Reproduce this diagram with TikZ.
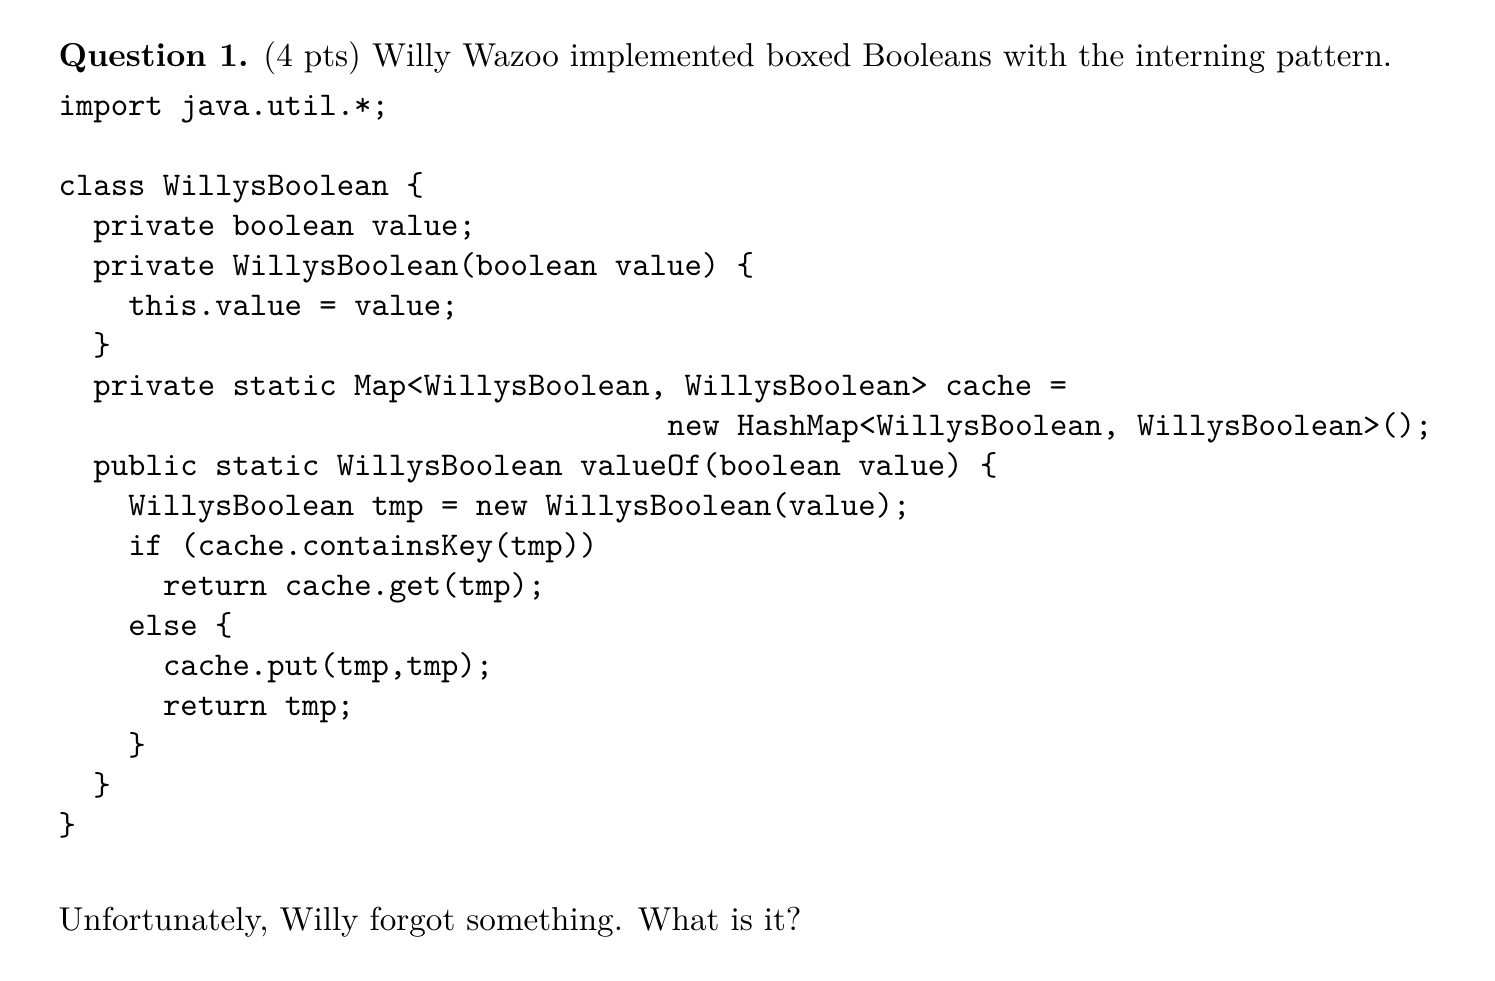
\documentclass[tikz,border=0pt]{standalone}
\begin{document}
\begin{tikzpicture}[x=0.302pt,y=-0.302pt,
  ln/.style={anchor=base west,inner sep=0pt,font=\ttfamily},
  tx/.style={anchor=base west,inner sep=0pt,font=\rmfamily}]
\useasboundingbox (0,0) rectangle (1495,980);
\def\cw{17.4}
\node[tx] (title) at (58,66) {\textbf{Question 1.} (4 pts) Willy Wazoo implemented boxed Booleans with the interning pattern.};
\node[ln] (l1) at (58,115) {import java.util.*;};
\node[ln] (l2) at (58,195) {class WillysBoolean \{};
\node[ln] (l3) at (58+2*\cw,235) {private boolean value;};
\node[ln] (l4) at (58+2*\cw,275) {private WillysBoolean(boolean value) \{};
\node[ln] (l5) at (58+4*\cw,315) {this.value = value;};
\node[ln] (l6) at (58+2*\cw,355) {\}};
\node[ln] (l7) at (58+2*\cw,395) {private static Map<WillysBoolean, WillysBoolean> cache =};
\node[ln] (l8) at (58+35*\cw,435) {new HashMap<WillysBoolean, WillysBoolean>();};
\node[ln] (l9) at (58+2*\cw,475) {public static WillysBoolean valueOf(boolean value) \{};
\node[ln] (l10) at (58+4*\cw,515) {WillysBoolean tmp = new WillysBoolean(value);};
\node[ln] (l11) at (58+4*\cw,555) {if (cache.containsKey(tmp))};
\node[ln] (l12) at (58+6*\cw,595) {return cache.get(tmp);};
\node[ln] (l13) at (58+4*\cw,635) {else \{};
\node[ln] (l14) at (58+6*\cw,675) {cache.put(tmp,tmp);};
\node[ln] (l15) at (58+6*\cw,715) {return tmp;};
\node[ln] (l16) at (58+4*\cw,755) {\}};
\node[ln] (l17) at (58+2*\cw,795) {\}};
\node[ln] (l18) at (58,835) {\}};
\node[tx] (q) at (58,930) {Unfortunately, Willy forgot something. What is it?};
\end{tikzpicture}
\end{document}
